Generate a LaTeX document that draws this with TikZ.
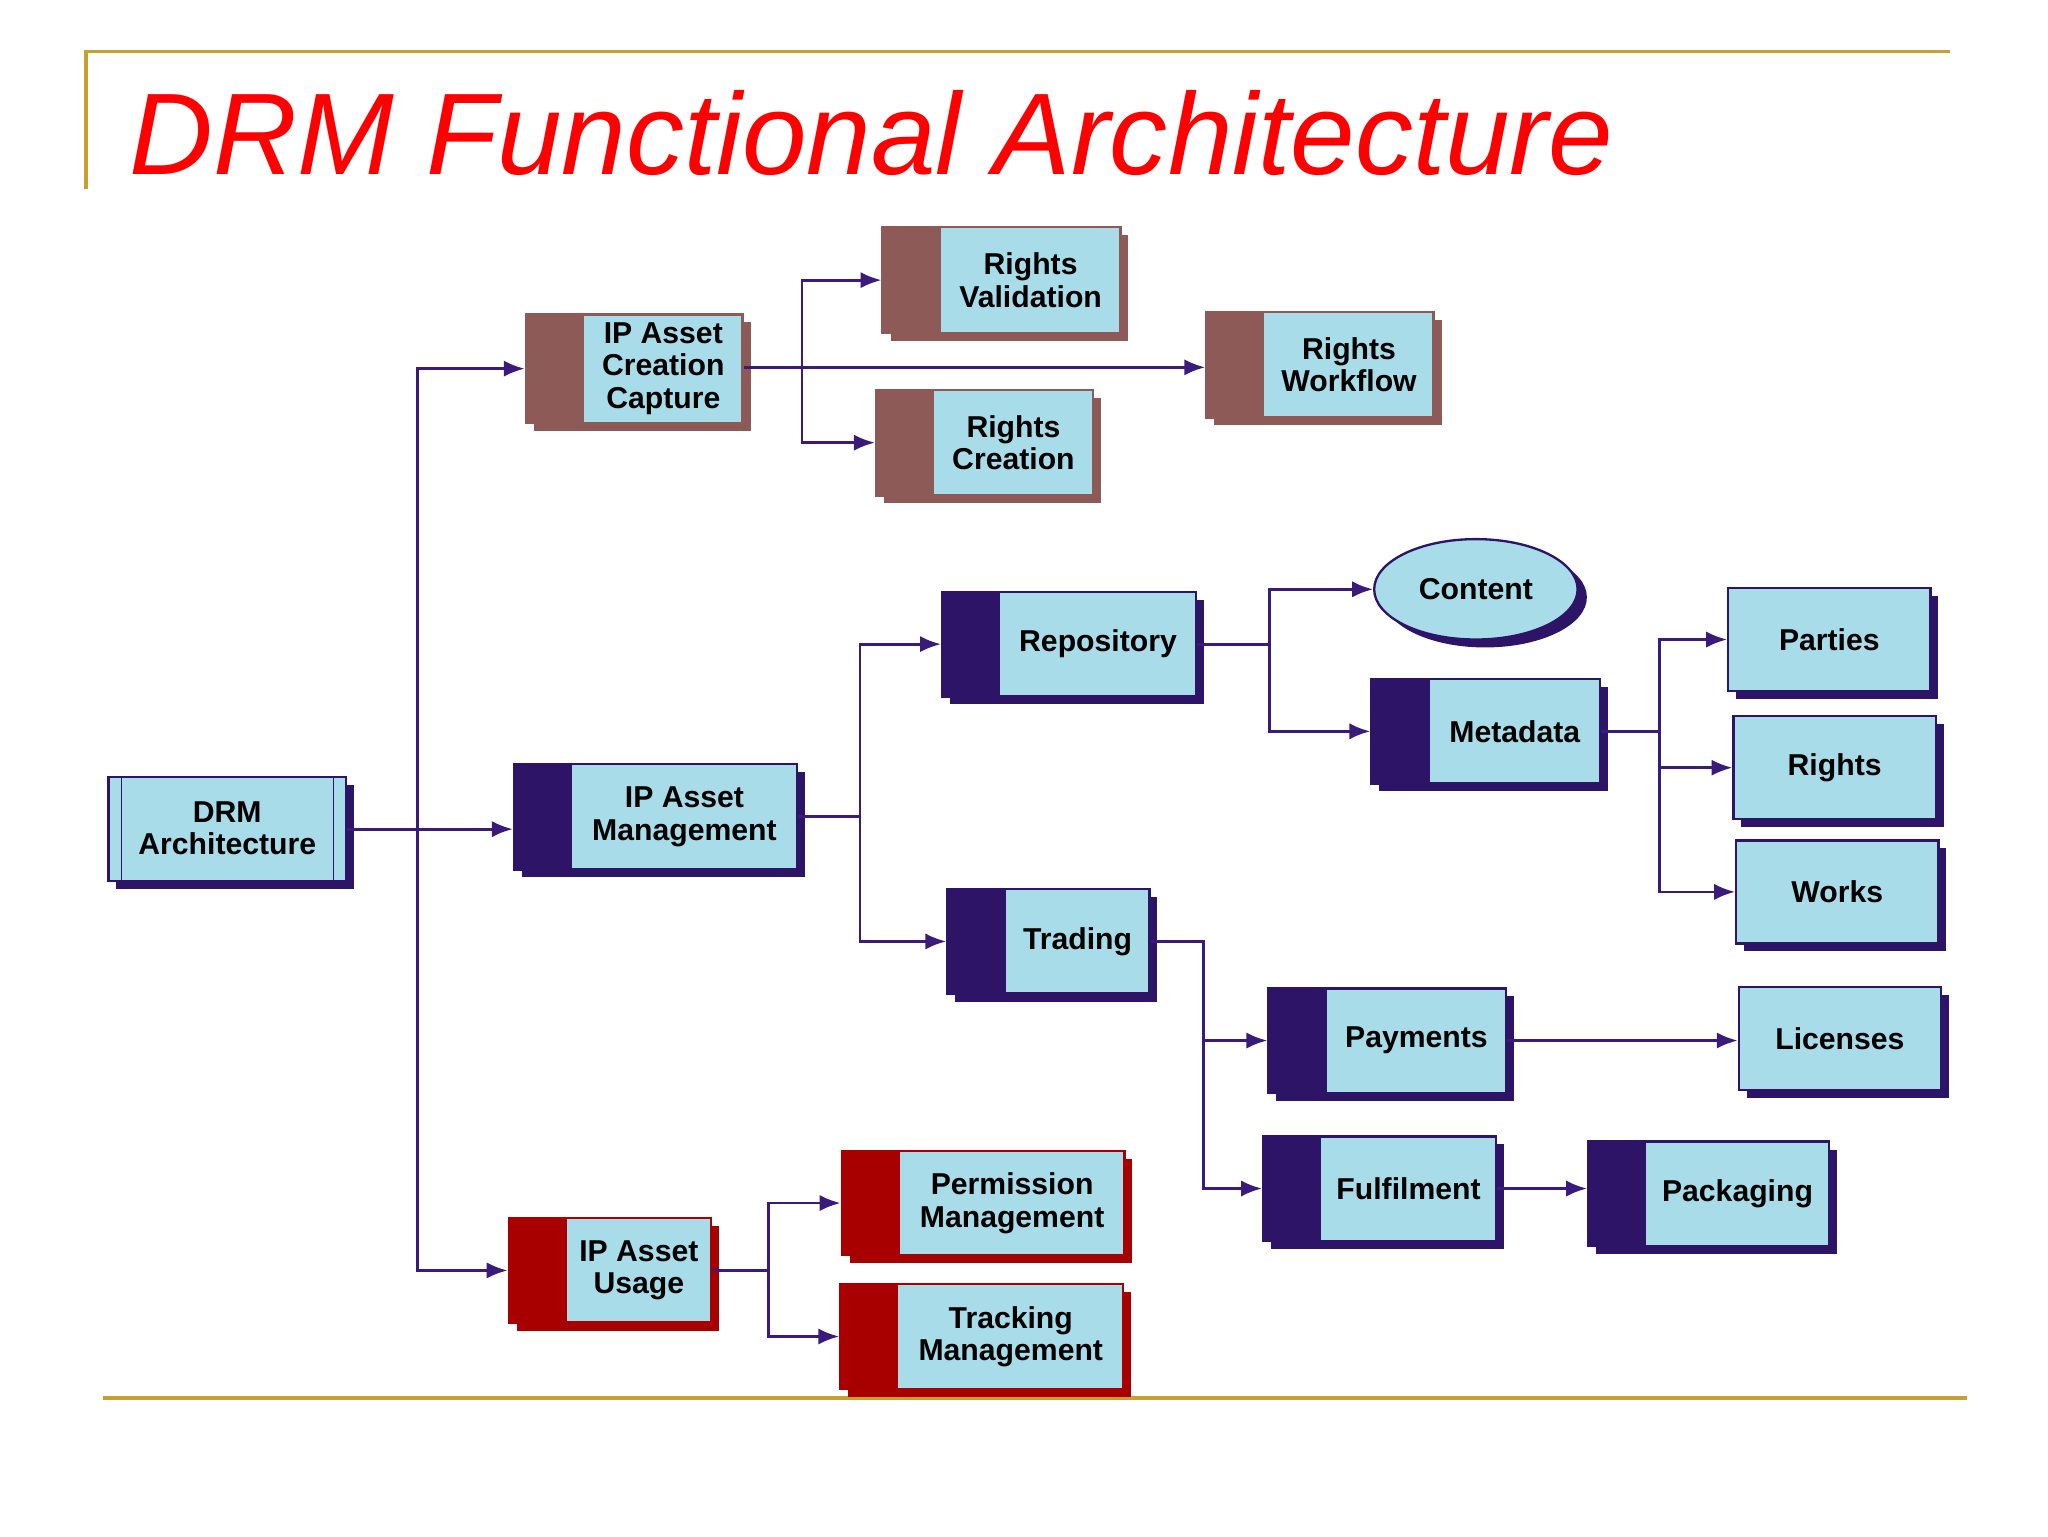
\documentclass[tikz,border=0pt]{standalone}
\usepackage{fontspec}
\setmainfont{Liberation Sans}
\usetikzlibrary{fit,arrows.meta,shapes.geometric}
\definecolor{cy}{HTML}{A8DCE8}
\definecolor{br}{HTML}{8E5A58}
\definecolor{nv}{HTML}{2E1466}
\definecolor{rd}{HTML}{A80000}
\definecolor{ln}{HTML}{3A1A7A}
\definecolor{gd}{HTML}{C8A030}
\tikzset{x=0.02cm,y=-0.02cm,
 lbl/.style={font=\fontsize{13}{14}\selectfont\bfseries,align=center,text=black},
 arr/.style={draw=ln,line width=1.2pt,-{Latex[length=9pt,width=7pt]}},
 box/.style={inner sep=0pt,draw=#1,line width=1pt}}
\newcommand\bx[7]{%
 \fill[#6] (#2+6,#3+6) rectangle (#4+6,#5+6);
 \fill[cy] (#2,#3) rectangle (#4,#5);
 \fill[#6] (#2,#3) rectangle (#2+44,#5);
 \coordinate (#1a) at (#2,#3); \coordinate (#1b) at (#4,#5);
 \node[box=#6,fit=(#1a)(#1b)] (#1) {};
 \node[lbl] at ({(#2+44+#4)/2},{(#3+#5)/2}) {#7};}
\begin{document}
\begin{tikzpicture}
\useasboundingbox[fill=white] (0,0) rectangle (1550,1162.5);
\draw[gd,line width=1.5pt] (65,143) -- (65,39) -- (1476,39);
\draw[gd,line width=1.5pt] (78,1058) -- (1489,1058);
\node[anchor=base west,text=red,font=\fontsize{50}{54}\selectfont\itshape] (title) at (92,132) {DRM Functional Architecture};
% boxes
\fill[nv] (88,594) rectangle (268,673);
\coordinate (drma) at (82,588); \coordinate (drmb) at (262,667);
\node[box=nv,fill=cy,fit=(drma)(drmb)] (drm) {};
\draw[nv] (92,588) -- (92,667) (252,588) -- (252,667);
\node[lbl] at (172,627) {DRM\\Architecture};
\bx{ipacc}{398}{238}{562}{320}{br}{IP Asset\\Creation\\Capture}
\bx{rv}{668}{172}{848}{252}{br}{Rights\\Validation}
\bx{rw}{913}{236}{1085}{316}{br}{Rights\\Workflow}
\bx{rc}{663}{295}{827}{375}{br}{Rights\\Creation}
\bx{repo}{713}{448}{905}{527}{nv}{Repository}
\fill[nv] (1124,452) ellipse (77 and 38);
\node[draw=nv,line width=1pt,fill=cy,ellipse,minimum width=3.08cm,minimum height=1.52cm,inner sep=0pt,lbl] (content) at (1117,446) {Content};
\bx{meta}{1038}{514}{1211}{593}{nv}{Metadata}
\fill[nv] (1314,451) rectangle (1467,529);
\coordinate (pa) at (1308,445); \coordinate (pb) at (1461,523);
\node[box=nv,fill=cy,fit=(pa)(pb)] (parties) {}; \node[lbl] at (parties) {Parties};
\fill[nv] (1318,548) rectangle (1471,626);
\coordinate (ra) at (1312,542); \coordinate (rb) at (1465,620);
\node[box=nv,fill=cy,fit=(ra)(rb)] (rights) {}; \node[lbl] at (rights) {Rights};
\fill[nv] (1320,642) rectangle (1473,720);
\coordinate (wa) at (1314,636); \coordinate (wb) at (1467,714);
\node[box=nv,fill=cy,fit=(wa)(wb)] (works) {}; \node[lbl] at (works) {Works};
\fill[nv] (1322,753) rectangle (1475,831);
\coordinate (la) at (1316,747); \coordinate (lb) at (1469,825);
\node[box=nv,fill=cy,fit=(la)(lb)] (lic) {}; \node[lbl] at (lic) {Licenses};
\bx{ipam}{389}{578}{603}{658}{nv}{IP Asset\\Management}
\bx{trad}{717}{673}{870}{752}{nv}{Trading}
\bx{pay}{960}{748}{1140}{827}{nv}{Payments}
\bx{ful}{956}{860}{1132}{939}{nv}{Fulfilment}
\bx{pack}{1202}{864}{1384}{943}{nv}{Packaging}
\bx{ipau}{385}{922}{538}{1001}{rd}{IP Asset\\Usage}
\bx{pm}{637}{871}{851}{950}{rd}{Permission\\Management}
\bx{tm}{636}{972}{850}{1051}{rd}{Tracking\\Management}
% connectors
\draw[arr] (drm.east) -- ++(53,0) |- (ipacc.west);
\draw[arr] (drm.east) -- (ipam.west |- drm.east);
\draw[arr] (drm.east) -- ++(53,0) |- (ipau.west);
\draw[arr] (ipacc.east |- 0,278) -- (rw.west |- 0,278);
\draw[arr] (607,278) |- (rv.west);
\draw[arr] (607,278) |- (rc.west);
\draw[arr] (ipam.east) -- ++(47,0) |- (repo.west);
\draw[arr] (ipam.east) -- ++(47,0) |- (trad.west);
\draw[arr] (repo.east) -- ++(55,0) |- (content.west);
\draw[arr] (repo.east) -- ++(55,0) |- (meta.west);
\draw[arr] (meta.east) -- ++(44,0) |- (parties.west);
\draw[arr] (meta.east) -- ++(44,0) |- (rights.west);
\draw[arr] (meta.east) -- ++(44,0) |- (works.west);
\draw[arr] (trad.east) -- ++(40,0) |- (pay.west);
\draw[arr] (trad.east) -- ++(40,0) |- (ful.west);
\draw[arr] (pay.east) -- (lic.west |- pay.east);
\draw[arr] (ful.east) -- (pack.west |- ful.east);
\draw[arr] (ipau.east) -- ++(43,0) |- (pm.west);
\draw[arr] (ipau.east) -- ++(43,0) |- (tm.west);
\end{tikzpicture}
\end{document}
